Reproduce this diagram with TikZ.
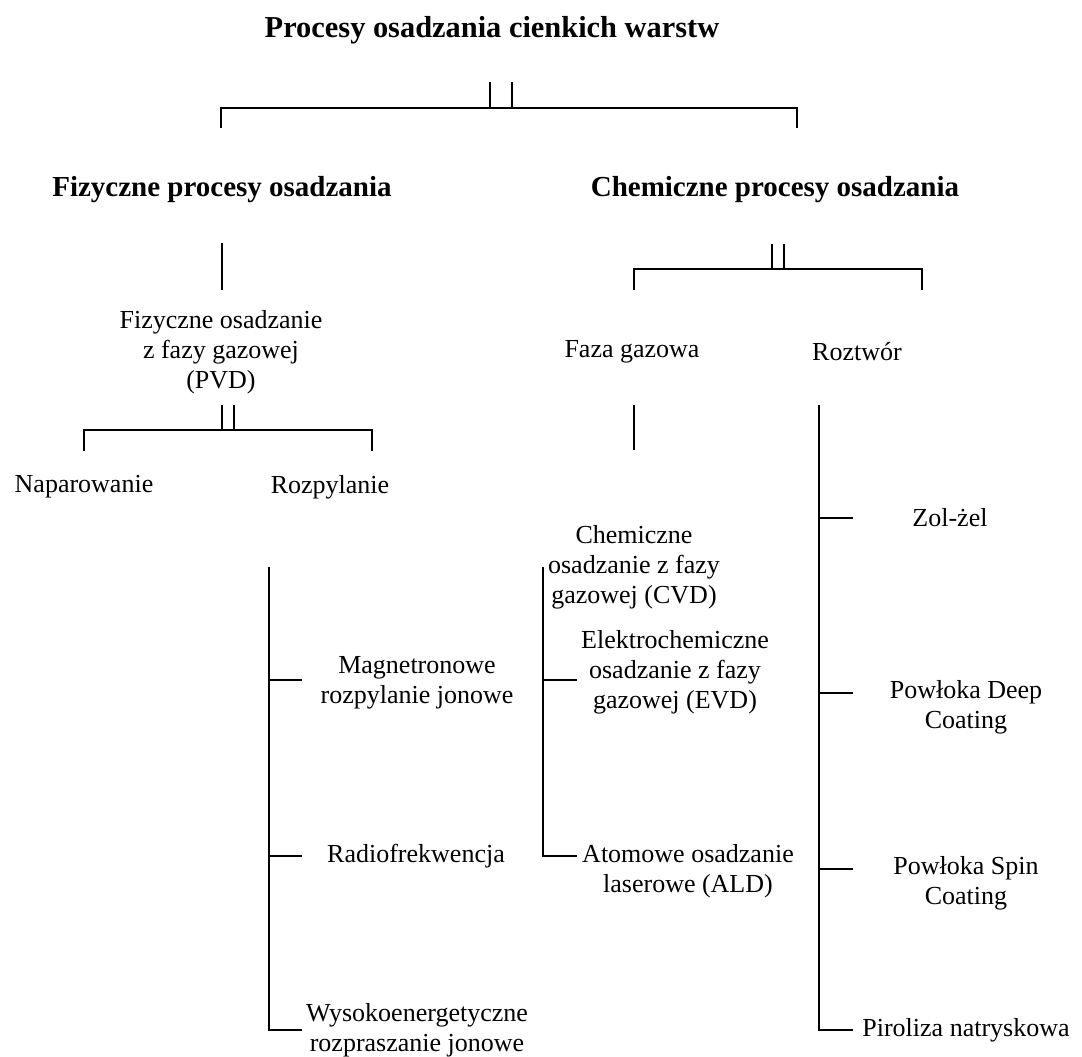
\documentclass[tikz,border=0pt]{standalone}
\usepackage{fontspec}
\setmainfont{Liberation Serif}

\begin{document}
\begin{tikzpicture}[x=0.5pt,y=-0.5pt,line width=1.1pt,
    head/.style={font=\bfseries\fontsize{14.5}{17}\selectfont,inner sep=0pt},
    leaf/.style={font=\fontsize{13}{15}\selectfont,align=center,inner sep=0pt}]
    \useasboundingbox (0,0) rectangle (1082,1056);
    \node[head,font=\bfseries\fontsize{15.2}{17}\selectfont] (root) at (492,30) {Procesy osadzania cienkich warstw};
    \node[head] (fiz) at (222,190) {Fizyczne procesy osadzania};
    \node[head] (chem) at (775,190) {Chemiczne procesy osadzania};
    \node[leaf] (pvd) at (221,352) {Fizyczne osadzanie\\z fazy gazowej\\(PVD)};
    \node[leaf] (napar) at (84,487) {Naparowanie};
    \node[leaf] (rozp) at (330,487) {Rozpylanie};
    \node[leaf] (gaz) at (632,352) {Faza gazowa};
    \node[leaf] (roztw) at (857,352) {Roztwór};
    \node[leaf] (cvd) at (634,567) {Chemiczne\\osadzanie z fazy\\gazowej (CVD)};
    \node[leaf] (magn) at (417,683) {Magnetronowe\\rozpylanie jonowe};
    \node[leaf] (radio) at (416,856) {Radiofrekwencja};
    \node[leaf] (wys) at (417,1030) {Wysokoenergetyczne\\rozpraszanie jonowe};
    \node[leaf] (evd) at (675,672) {Elektrochemiczne\\osadzanie z fazy\\gazowej (EVD)};
    \node[leaf] (ald) at (688,871) {Atomowe osadzanie\\laserowe (ALD)};
    \node[leaf] (zol) at (950,518) {Zol-żel};
    \node[leaf] (deep) at (966,707) {Powłoka Deep\\Coating};
    \node[leaf] (spin) at (966,883) {Powłoka Spin\\Coating};
    \node[leaf] (piro) at (966,1030) {Piroliza natryskowa};
    % brackets
    \coordinate (b0) at (501,108);
    \draw ([xshift=-5.5pt]b0) -- +(0,-26) ([xshift=5.5pt]b0) -- +(0,-26);
    \draw (221,128) |- (b0) -| (797,128);
    \draw (fiz.south |- 0,243) -- (fiz.south |- 0,290);
    \coordinate (b1) at (228,430);
    \draw ([xshift=-3pt]b1) -- +(0,-25) ([xshift=3pt]b1) -- +(0,-25);
    \draw (napar |- 0,451) |- (b1) -| (372,451);
    \coordinate (b2) at (778,269);
    \draw ([xshift=-3pt]b2) -- +(0,-25) ([xshift=3pt]b2) -- +(0,-25);
    \draw (634,290) |- (b2) -| (922,290);
    \draw (634,405) -- (634,450);
    % spines
    \draw (269,567) |- (302,1030) (269,680) -- (302,680) (269,856) -- (302,856);
    \draw (543,567) |- (577,856) (543,680) -- (577,680);
    \draw (819,405) |- (853,1030) \foreach \y in {518,693,869}{(819,\y) -- (853,\y)};
\end{tikzpicture}
\end{document}
